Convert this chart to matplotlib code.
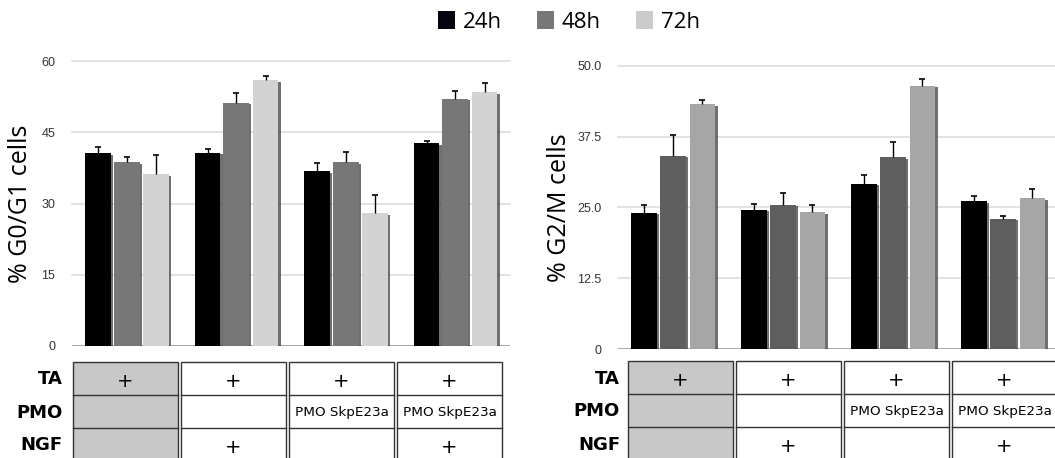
import numpy as np
import matplotlib
matplotlib.use('Agg')
import matplotlib.pyplot as plt
import matplotlib.patheffects as pe
from matplotlib.patches import Rectangle, Patch

# values (mean and upper error)
groups = [0, 1, 2, 3]
series = ['24h', '48h', '72h']

g0g1_24 = [40.6, 40.7, 36.8, 42.7]
g0g1_48 = [38.7, 51.2, 38.7, 52.1]
g0g1_72 = [36.2, 55.9, 28.0, 53.5]
g0g1_24_err = [1.3, 0.7, 1.7, 0.5]
g0g1_48_err = [1.1, 2.1, 2.1, 1.6]
g0g1_72_err = [4.0, 0.9, 3.8, 1.9]

g2m_24 = [24.05, 24.6, 29.2, 26.1]
g2m_48 = [34.1, 25.5, 33.9, 23.0]
g2m_72 = [43.2, 24.2, 46.5, 26.6]
g2m_24_err = [1.35, 1.0, 1.5, 0.95]
g2m_48_err = [3.7, 2.0, 2.6, 0.5]
g2m_72_err = [0.7, 1.2, 1.1, 1.6]

row_labels = ['TA', 'PMO', 'NGF']
ta_row = ['+', '+', '+', '+']
pmo_row = ['', '', 'PMO SkpE23a', 'PMO SkpE23a']
ngf_row = ['', '+', '', '+']

left_ticks = [0, 15, 30, 45, 60]
left_ticklabels = ['0', '15', '30', '45', '60']
right_ticks = [0, 12.5, 25, 37.5, 50]
right_ticklabels = ['0', '12.5', '25.0', '37.5', '50.0']

W, H = 1055, 458
fig = plt.figure(figsize=(W / 100, H / 100), dpi=100)


def px_axes(x0, x1, ytop, ybot):
    return fig.add_axes([x0 / W, 1 - ybot / H, (x1 - x0) / W, (ybot - ytop) / H])


def bar_panel(ax, vals, errs, colors, ticks, ticklabels, ylabel, ymax, lpad):
    width = 0.235
    offs = [-0.262, 0, 0.268]
    x = np.array(groups)
    for v, e, c, o in zip(vals, errs, colors, offs):
        bars = ax.bar(x + o, v, width, color=c, zorder=3)
        for b in bars:
            b.set_path_effects([pe.SimplePatchShadow(offset=(1.6, -1.2), shadow_rgbFace='0.25', alpha=0.75),
                                pe.Normal()])
        eb = ax.errorbar(x + o, v, yerr=[np.zeros(len(v)), e], fmt='none', ecolor='black',
                         elinewidth=1.0, capsize=2, capthick=1.2, zorder=4)
        eb[1][0].set_visible(False)
    ax.set_xlim(-0.5, 3.5)
    ax.set_ylim(0, ymax)
    for s in ax.spines.values():
        s.set_visible(False)
    ax.set_xticks([])
    ax.set_yticks(ticks)
    ax.set_yticklabels(ticklabels, family='Liberation Sans', fontsize=9, color='#333333')
    ax.tick_params(axis='y', length=0, pad=12)
    for t in ticks[1:]:
        ax.axhline(t, color='#dddddd', lw=1.2, zorder=1, clip_on=False)
    ax.axhline(0, color='#999999', lw=1.2, zorder=1)
    ax.set_ylabel(ylabel, family='Open Sans', fontsize=18, labelpad=lpad)
    ax.patch.set_alpha(0)


axl = px_axes(72, 510, 61, 346)
bar_panel(axl, [g0g1_24, g0g1_48, g0g1_72], [g0g1_24_err, g0g1_48_err, g0g1_72_err],
          ['#000000', '#777777', '#d3d3d3'], left_ticks, left_ticklabels, '% G0/G1 cells', 60, 6)

axr = px_axes(618, 1058, 65.7, 349)
bar_panel(axr, [g2m_24, g2m_48, g2m_72], [g2m_24_err, g2m_48_err, g2m_72_err],
          ['#000000', '#5e5e5e', '#a6a6a6'], right_ticks, right_ticklabels, '% G2/M cells', 50, 4)

# condition tables under each panel (overlay axes in pixel units)
over = fig.add_axes([0, 0, 1, 1])
over.set_xlim(0, W)
over.set_ylim(H, 0)
over.axis('off')


def draw_table(x0, ytop, label_x):
    colw, step, rowh = 105, 108, 33
    rows = [ta_row, pmo_row, ngf_row]
    for r, lab in enumerate(row_labels):
        over.text(label_x, ytop + rowh * r + rowh / 2 + 1, lab, ha='right', va='center',
                  fontsize=13, fontweight='bold', family='DejaVu Sans')
    for c in range(4):
        cx = x0 + c * step
        fc = '#c8c8c8' if c == 0 else 'white'
        over.add_patch(Rectangle((cx, ytop), colw, rowh * 3, facecolor=fc,
                                 edgecolor='#333333', lw=1.0, clip_on=False))
        for r in range(1, 3):
            over.plot([cx, cx + colw], [ytop + rowh * r] * 2, color='#333333', lw=1.0)
        for r in range(3):
            txt = rows[r][c]
            if txt == '+':
                over.text(cx + colw / 2, ytop + rowh * r + rowh / 2 + 3, txt, ha='center',
                          va='center', fontsize=14, family='DejaVu Sans')
            elif txt:
                over.text(cx + colw / 2, ytop + rowh * r + rowh / 2 + 1, txt, ha='center',
                          va='center', fontsize=9.7, family='DejaVu Sans')


draw_table(73, 362, 63)
draw_table(628, 361, 620)

handles = [Patch(facecolor=c, edgecolor='none') for c in ['#05050f', '#777777', '#cccccc']]
fig.legend(handles, series, loc='center', bbox_to_anchor=(569 / W, 1 - 22 / H), ncol=3,
           frameon=False, handlelength=0.75, handleheight=0.9, handletextpad=0.35,
           columnspacing=1.6, prop={'family': 'Open Sans', 'size': 16})

fig.savefig('out.png', dpi=100)
